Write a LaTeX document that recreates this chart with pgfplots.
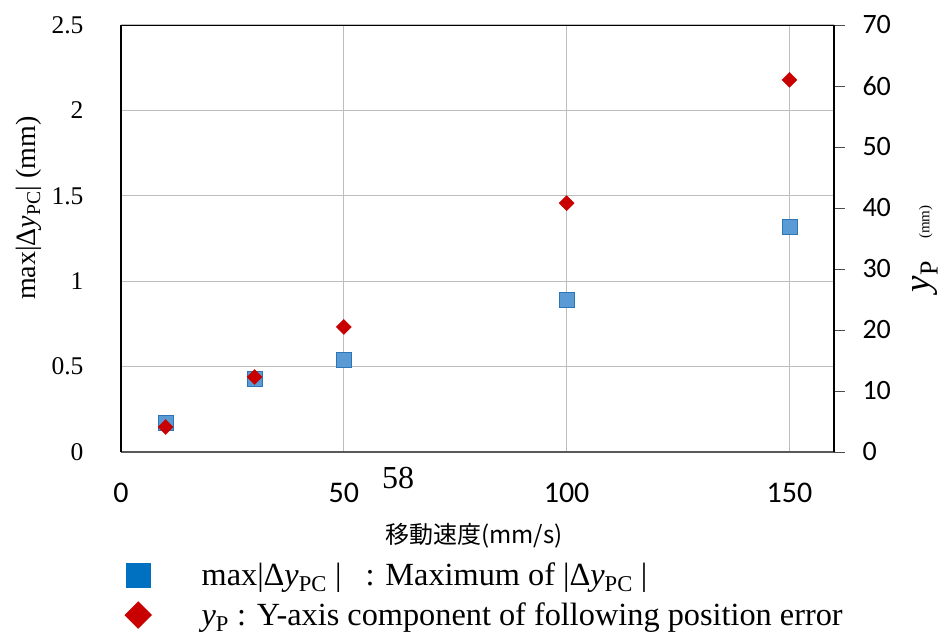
\documentclass[border=0pt]{standalone}
\usepackage{fontspec}
\setmainfont{Liberation Serif}
\newfontfamily\calibri{Carlito}
\newfontfamily\cjk{Noto Sans CJK JP}
\usepackage{pgfplots}
\pgfplotsset{compat=1.18}
\definecolor{sqfill}{HTML}{5B9BD5}
\definecolor{sqedge}{HTML}{2E75B6}
\definecolor{legblue}{HTML}{0070C0}
\definecolor{dred}{HTML}{C80000}
\definecolor{gridc}{HTML}{BDBDBD}
\begin{document}
\begin{tikzpicture}
\useasboundingbox (-121pt,-183pt) rectangle (823pt,452pt);
\begin{axis}[
  at={(0pt,0pt)}, anchor=south west,
  scale only axis, width=713pt, height=427pt,
  clip=false,
  xmin=0, xmax=160, ymin=0, ymax=2.5,
  xtick={0,50,100,150}, ytick={0,0.5,1,1.5,2,2.5},
  xticklabels={0,50,100,150},
  yticklabels={0,0.5,1,1.5,2,2.5},
  axis x line*=bottom, axis y line*=left,
  x axis line style={draw=black!65, line width=1.6pt, -},
  y axis line style={draw=black, line width=1.6pt, -},
  major tick length=0pt,
  grid=major,
  major grid style={draw=gridc, line width=1.3pt},
  xticklabel style={font=\calibri\fontsize{30}{30}\selectfont, yshift=-27pt},
  yticklabel style={font=\fontsize{25.5}{25.5}\selectfont, xshift=-34pt},
  /pgf/number format/assume math mode=true,
  xlabel={\cjk\fontsize{24}{24}\selectfont 移動速度(mm/s)},
  xlabel style={at={(axis description cs:0.495,-0.197)}, anchor=center},
  ylabel={\fontsize{28}{28}\selectfont max|Δ\textit{y}\textsubscript{PC}| (mm)},
  ylabel style={at={(axis description cs:-0.129,0.571)}, anchor=center},
]
\addplot[only marks, mark=square*, mark size=7.5pt,
  mark options={fill=sqfill, draw=sqedge, line width=0.8pt}]
  coordinates {(10,0.17) (30,0.43) (50,0.54) (100,0.89) (150,1.32)};
\node[font=\fontsize{32}{33}\selectfont] at (axis description cs:0.3885,-0.061) {58};
\end{axis}
\begin{axis}[
  at={(0pt,0pt)}, anchor=south west,
  scale only axis, width=713pt, height=427pt,
  xmin=0, xmax=160, ymin=0, ymax=70,
  ytick={0,10,20,30,40,50,60,70},
  yticklabels={0,10,20,30,40,50,60,70},
  axis y line*=right, axis x line*=top,
  xtick=\empty,
  x axis line style={draw=black, line width=1pt, -},
  y axis line style={draw=black, line width=1.3pt, -},
  tick align=outside, major tick length=11pt,
  ytick style={draw=black!70, line width=1pt},
  yticklabel style={font=\calibri\fontsize{28}{28}\selectfont, xshift=14pt},
  /pgf/number format/assume math mode=true,
  ylabel={\fontsize{37}{37}\selectfont\textit{y}\textsubscript{P}\hspace{22pt}\fontsize{15}{15}\selectfont(mm)},
  ylabel style={at={(axis description cs:1.1276,0.476)}, anchor=center},
  legend cell align=left,
  legend image code/.code={\draw[#1] plot coordinates {(0pt,0pt)};},
  legend style={at={(axis description cs:0.005,-0.254)}, anchor=north west,
    draw=none, fill=none, inner sep=0pt, row sep=12pt,
    font=\fontsize{32.3}{32.3}\selectfont,
    /tikz/every odd column/.append style={column sep=48pt}},
]
\addlegendimage{only marks, mark=square*, mark size=12pt, mark options={fill=legblue, draw=legblue}}
\addlegendentry{max|Δ\textit{y}\textsubscript{PC} |\ \ \ : Maximum of |Δ\textit{y}\textsubscript{PC} |}
\addlegendimage{only marks, mark=square*, mark size=9.5pt, mark options={rotate=45, fill=dred, draw=dred}}
\addlegendentry{\textit{y}\textsubscript{P} : Y-axis component of following position error}
\addplot[only marks, mark=square*, mark size=5.3pt, forget plot,
  mark options={rotate=45, fill=dred, draw=dred}]
  coordinates {(10,4.1) (30,12.3) (50,20.5) (100,40.8) (150,61.0)};
\end{axis}
\end{tikzpicture}
\end{document}
